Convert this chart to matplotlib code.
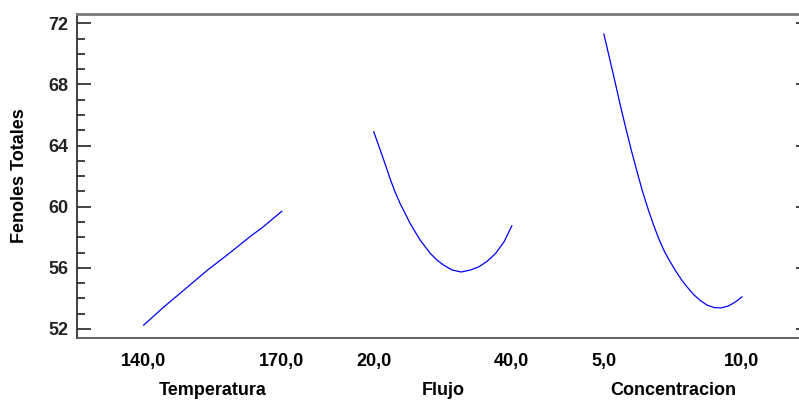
"""Main effects plot for Fenoles Totales (Statgraphics style)."""

import matplotlib
matplotlib.use("Agg")
import matplotlib.pyplot as plt
from matplotlib.ticker import MultipleLocator


factor_names = ["Temperatura", "Flujo", "Concentracion"]
factor_ranges = [(140.0, 170.0), (20.0, 40.0), (5.0, 10.0)]
factor_tick_labels = [("140,0", "170,0"), ("20,0", "40,0"), ("5,0", "10,0")]

temperatura_x = [140.0, 144.3, 148.6, 153.7, 158.8, 163.1, 166.0, 170.0]
temperatura_y = [52.25, 53.42, 54.51, 55.81, 57.0, 58.04, 58.69, 59.7]

flujo_x = [20.0, 20.88, 21.61, 22.34, 23.07, 23.8, 24.53, 25.26, 25.99, 26.72,
           27.45, 28.18, 29.15, 30.12, 31.34, 32.66, 34.01, 35.23, 36.45,
           37.66, 38.88, 40.0]
flujo_y = [64.9, 63.78, 62.84, 61.86, 60.98, 60.22, 59.57, 58.91, 58.36, 57.82,
           57.38, 56.95, 56.51, 56.18, 55.86, 55.73, 55.86, 56.07, 56.44,
           56.95, 57.71, 58.75]

concentracion_x = [5.0, 5.2, 5.4, 5.6, 5.8, 6.0, 6.2, 6.4, 6.6, 6.8, 7.0,
                   7.2, 7.4, 7.6, 7.8, 8.0, 8.25, 8.5, 8.75, 9.0, 9.25,
                   9.5, 9.75, 10.0]
concentracion_y = [71.3, 69.75, 68.2, 66.6, 65.1, 63.65, 62.3, 61.0, 59.85,
                   58.8, 57.85, 57.05, 56.4, 55.8, 55.25, 54.78, 54.25,
                   53.85, 53.55, 53.4, 53.38, 53.5, 53.75, 54.1]

series_x = [temperatura_x, flujo_x, concentracion_x]
series_y = [temperatura_y, flujo_y, concentracion_y]

PITCH = 5.0 / 3.0
FONT = "Liberation Sans"


def to_axis(index, values):
    """Place factor values on the shared horizontal axis segment."""

    lo, hi = factor_ranges[index]
    return [index * PITCH + (v - lo) / (hi - lo) for v in values]


fig = plt.figure(figsize=(7.99, 4.01), dpi=100)
ax = fig.add_axes([77 / 799, 63 / 401, 733 / 799, 324 / 401])

for i in range(len(factor_names)):
    ax.plot(to_axis(i, series_x[i]), series_y[i], color="#0000ff", lw=0.9)

ax.set_xlim(-0.483, 2 * PITCH + 1.493)
ax.set_ylim(51.41, 72.61)

ax.yaxis.set_major_locator(MultipleLocator(4))
ax.yaxis.set_minor_locator(MultipleLocator(1))
ax.tick_params(axis="y", which="both", direction="in", left=True, right=True,
               colors="#222222", width=1.2)
ax.tick_params(axis="y", which="major", length=10, pad=6)
ax.tick_params(axis="y", which="minor", length=5.8)
for lbl in ax.get_yticklabels():
    lbl.set_fontfamily(FONT)
    lbl.set_fontweight("bold")
    lbl.set_fontsize(13)

tick_pos = []
tick_txt = []
for i in range(len(factor_names)):
    tick_pos += to_axis(i, factor_ranges[i])
    tick_txt += list(factor_tick_labels[i])
ax.set_xticks(tick_pos)
ax.set_xticklabels(tick_txt, fontfamily=FONT, fontweight="bold", fontsize=13)
ax.tick_params(axis="x", length=0, pad=11)

# factor names sit below the tick labels; nudged up so they stay in frame
for i, name in enumerate(factor_names):
    ax.annotate(name, xy=(i * PITCH + 0.5, 0), xycoords=("data", "axes fraction"),
                xytext=(0, -37.5), textcoords="offset points", ha="center",
                va="center", fontfamily=FONT, fontweight="bold", fontsize=13)

ax.set_ylabel("Fenoles Totales", fontfamily=FONT, fontweight="bold",
              fontsize=13, labelpad=15)

ax.spines["top"].set_color("#7a7a7a")
ax.spines["top"].set_linewidth(2)
ax.spines["left"].set_color("#333333")
ax.spines["left"].set_linewidth(1.3)
ax.spines["bottom"].set_color("#555555")
ax.spines["bottom"].set_linewidth(1.3)
ax.spines["right"].set_color("#333333")

fig.savefig("out.png", dpi=100)
